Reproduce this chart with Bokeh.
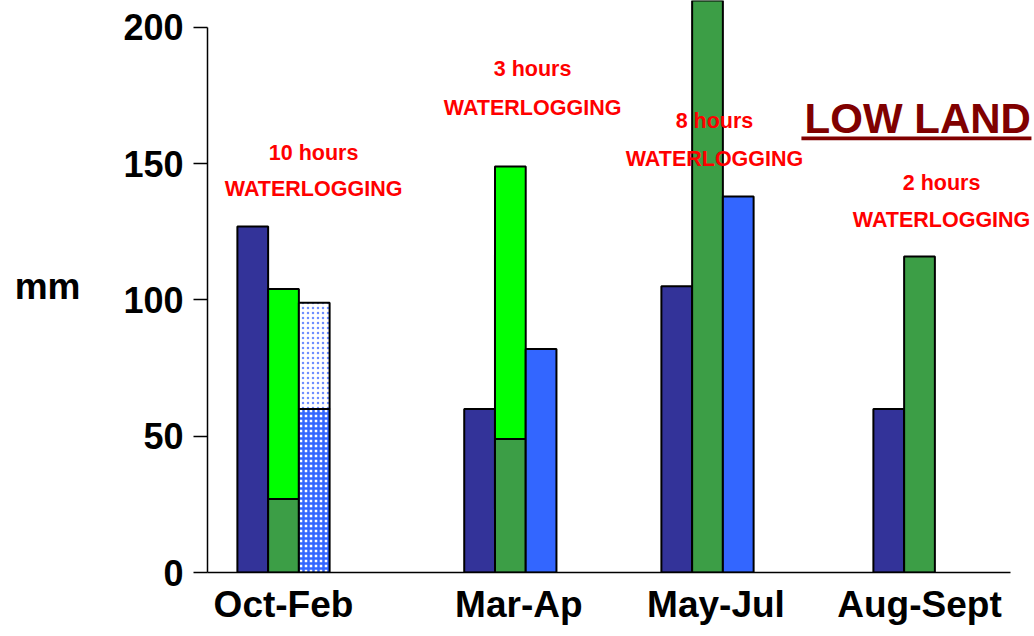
from bokeh.plotting import figure
from bokeh.models import ColumnDataSource, FixedTicker, Label, BoxAnnotation
from bokeh.embed import file_html
from bokeh.resources import INLINE

# ---- data ----
seasons = ["Oct-Feb", "Mar-Ap", "May-Jul", "Aug-Sept"]
series1 = [127, 60, 105, 60]            # dark blue bars
series2_lower = [27, 49, 230, 116]      # dark green part
series2_upper = [104, 149, None, None]  # bright green top of stacked bar
series3 = [None, 82, 138, None]         # blue bars
series3_pattern_lower = [60]            # Oct-Feb checkered part
series3_pattern_upper = [99]            # Oct-Feb dotted part
notes_hours = ["10 hours", "3 hours", "8 hours", "2 hours"]
y_ticks = [0, 50, 100, 150, 200]

# ---- layout params ----
group_x = [0.0, 1.07, 2.0, 3.0]
label_x = [0.0, 1.11, 2.04, 3.0]
bw = 0.145
FONT = "Liberation Sans"

p = figure(width=1032, height=628, output_backend="svg", toolbar_location=None,
           x_range=(-0.3585, 3.533), y_range=(0, 209.9),
           min_border_left=207, min_border_right=0, min_border_top=0,
           min_border_bottom=56)
p.frame_width = 825
p.frame_height = 572
p.outline_line_color = None
p.grid.visible = False
p.background_fill_color = "white"

def bars(xs, bottoms, tops, **kw):
    src = ColumnDataSource(dict(x=xs, b=bottoms, t=tops))
    p.vbar(x="x", bottom="b", top="t", width=bw, source=src,
           line_color="black", line_width=2, **kw)

# dark blue
bars([g - bw for g in group_x], [0] * 4, series1, fill_color="#333399")
# dark green lower
bars(group_x, [0] * 4, series2_lower, fill_color="#3C9E46")
# bright green upper
ux, ub, ut = [], [], []
for g, lo, up in zip(group_x, series2_lower, series2_upper):
    if up is not None:
        ux.append(g); ub.append(lo); ut.append(up)
bars(ux, ub, ut, fill_color="#00FF00")
# blue third bars
bx, bt = [], []
for g, v in zip(group_x, series3):
    if v is not None:
        bx.append(g + bw); bt.append(v)
bars(bx, [0] * len(bx), bt, fill_color="#3366FF")
# patterned Oct-Feb bar
bars([group_x[0] + bw], [0], series3_pattern_lower, fill_color="white",
     hatch_pattern="cross", hatch_color="#3366FF", hatch_scale=5, hatch_weight=2.5)
bars([group_x[0] + bw], series3_pattern_lower, series3_pattern_upper, fill_color="white",
     hatch_pattern="dot", hatch_color="#6E8FFF", hatch_scale=5, hatch_weight=1.5)

# axes
ya = p.yaxis[0]
ya.ticker = FixedTicker(ticks=y_ticks)
ya.bounds = (0, 200)
ya.minor_tick_line_color = None
ya.major_tick_in = 0
ya.major_tick_out = 14
ya.major_tick_line_width = 1.5
ya.axis_line_width = 1.5
ya.major_label_standoff = 10
ya.major_label_text_font = FONT
ya.major_label_text_font_style = "bold"
ya.major_label_text_font_size = "36px"
ya.major_label_text_color = "black"
ya.axis_label = "mm"
ya.axis_label_text_font = FONT
ya.axis_label_text_font_style = "bold"
ya.axis_label_text_font_size = "37px"
ya.axis_label_text_color = "black"
ya.axis_label_standoff = 40
if "axis_label_orientation" in ya.properties():
    ya.axis_label_orientation = "horizontal"

xa = p.xaxis[0]
xa.ticker = FixedTicker(ticks=label_x)
xa.major_label_overrides = {x: s for x, s in zip(label_x, seasons)}
xa.bounds = (-0.3585, 3.43)
xa.major_tick_line_color = None
xa.minor_tick_line_color = None
xa.axis_line_width = 1.5
xa.major_label_standoff = 5
xa.major_label_text_font = FONT
xa.major_label_text_font_style = "bold"
xa.major_label_text_font_size = "37px"
xa.major_label_text_color = "black"

# annotations (y = vertical centre of each line)
note_pos = [(0.142, 154.1, 140.6), (1.175, 184.6, 170.6),
            (2.033, 165.5, 151.6), (3.104, 142.8, 129.5)]
for txt, (x, y1, y2) in zip(notes_hours, note_pos):
    for t, y in ((txt, y1), ("WATERLOGGING", y2)):
        p.add_layout(Label(x=x, y=y, text=t, text_align="center",
                           text_baseline="middle", text_font=FONT,
                           text_font_style="bold", text_font_size="21.5px",
                           text_color="#FF0000"))

p.add_layout(Label(x=2.458, y=166.6, text="LOW LAND", text_align="left",
                   text_baseline="middle", text_font=FONT,
                   text_font_style="bold", text_font_size="42px",
                   text_color="#800000"))
p.add_layout(BoxAnnotation(left=2.443, right=3.528, bottom=158.6, top=160.0,
                           fill_color="#800000", fill_alpha=1, line_color=None))

open("out.html", "w").write(file_html(p, INLINE))
